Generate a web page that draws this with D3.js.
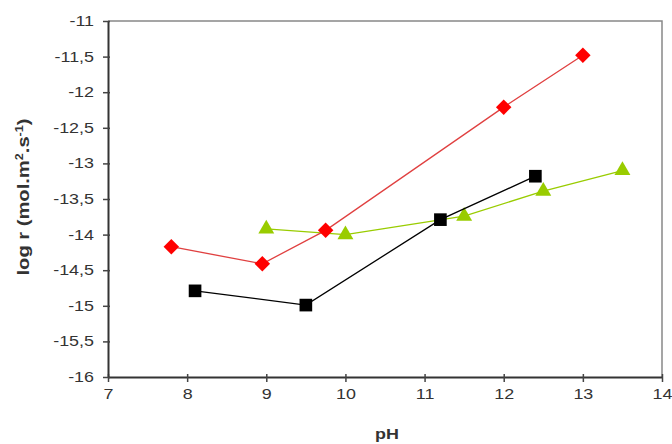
<!DOCTYPE html>
<html><head><meta charset="utf-8">
<script src="https://cdn.jsdelivr.net/npm/d3@7"></script>
<style>body{margin:0;background:#fff}svg{display:block}</style>
</head><body>
<svg id="c" width="672" height="444"></svg>
<script>
const xTicks = [7, 8, 9, 10, 11, 12, 13, 14];
const yTicks = [-11, -11.5, -12, -12.5, -13, -13.5, -14, -14.5, -15, -15.5, -16];
const redPH = [7.8, 8.95, 9.75, 12.0, 13.0];
const redLogR = [-14.17, -14.41, -13.94, -12.21, -11.48];
const blackPH = [8.1, 9.5, 11.2, 12.4];
const blackLogR = [-14.79, -14.99, -13.79, -13.18];
const greenPH = [9.0, 10.0, 11.5, 12.5, 13.5];
const greenLogR = [-13.92, -14.0, -13.74, -13.39, -13.1];

const svg = d3.select("#c");
const L = 108, R = 662, T = 21, B = 377;
const SX = 1.28;
const x = d3.scaleLinear().domain([7, 14]).range([L, R]);
const y = d3.scaleLinear().domain([-16, -11]).range([B, T]);
const fmt = d => String(d).replace(".", ",");
const FONT = "Liberation Sans, Arial, sans-serif";

svg.append("path").attr("d", `M${L},${T}H${R}V${B}`).attr("fill", "none").attr("stroke", "#888").attr("stroke-width", 1.5);

const xa = svg.append("g").attr("transform", `translate(0,${B})`)
  .call(d3.axisBottom(x).tickValues(xTicks).tickSize(5).tickSizeOuter(0).tickFormat(d => d));
const ya = svg.append("g").attr("transform", `translate(${L},0)`)
  .call(d3.axisLeft(y).tickValues(yTicks).tickSize(5).tickSizeOuter(0).tickFormat(fmt));
[xa, ya].forEach(a => {
  a.select(".domain").attr("stroke", "#333").attr("stroke-width", 2);
  a.selectAll(".tick line").attr("stroke", "#444").attr("stroke-width", 1.5);
  a.selectAll("text").attr("font-family", FONT).attr("font-size", 14).attr("fill", "#333")
    .attr("transform", `scale(${SX},1)`);
});
xa.selectAll(".tick line").attr("y1", -3);
xa.selectAll("text").attr("y", 12).attr("dy", "0.71em");
ya.selectAll(".tick line").attr("x1", 2);
ya.selectAll("text").attr("x", -14 / SX);

svg.append("text").attr("transform", `translate(${(L + R) / 2 + 2},439) scale(${SX},1)`).attr("text-anchor", "middle")
  .attr("font-family", FONT).attr("font-size", 14).attr("font-weight", "bold").attr("fill", "#333").text("pH");
const yt = svg.append("text").attr("transform", `translate(29,197) rotate(-90) scale(1.26,1)`).attr("text-anchor", "middle")
  .attr("font-family", FONT).attr("font-size", 16).attr("font-weight", "bold").attr("fill", "#333");
yt.append("tspan").text("log r (mol.m");
yt.append("tspan").attr("font-size", 10).attr("dy", -6).text("2");
yt.append("tspan").attr("dy", 6).text(".s");
yt.append("tspan").attr("font-size", 10).attr("dy", -6).text("-1");
yt.append("tspan").attr("dy", 6).text(")");

const rotSquare = {draw(ctx, size) { const r = Math.sqrt(size / 2); ctx.moveTo(0, -r); ctx.lineTo(r, 0); ctx.lineTo(0, r); ctx.lineTo(-r, 0); ctx.closePath(); }};

const line = d3.line().x(d => x(d[0])).y(d => y(d[1]));
function series(px, py, color, sym, size, markColor) {
  const pts = px.map((v, i) => [v, py[i]]);
  svg.append("path").datum(pts).attr("d", line).attr("fill", "none").attr("stroke", color).attr("stroke-width", 1.3);
  svg.append("g").selectAll("path").data(pts).join("path")
    .attr("transform", d => `translate(${x(d[0])},${y(d[1])})`)
    .attr("d", d3.symbol(sym, size)).attr("fill", markColor);
}
series(greenPH, greenLogR, "#99cc00", d3.symbolTriangle, 110, "#99cc00");
series(blackPH, blackLogR, "#000", d3.symbolSquare, 160, "#000");
series(redPH, redLogR, "#e04040", rotSquare, 120, "#ff0000");
</script>
</body></html>
